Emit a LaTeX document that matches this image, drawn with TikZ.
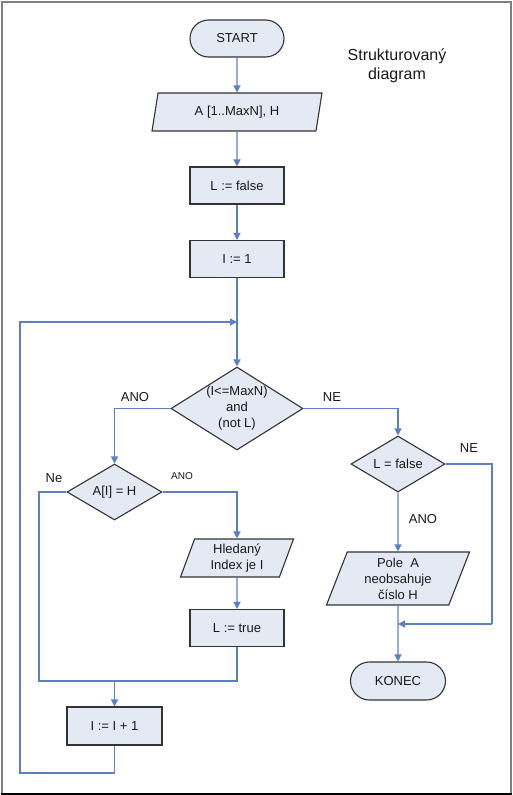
\documentclass[tikz,border=0pt]{standalone}
\usepackage{fontspec}
\setmainfont{Liberation Sans}
\usetikzlibrary{shapes.geometric,shapes.misc,arrows.meta}
\definecolor{fillc}{HTML}{E3EAF4}
\definecolor{linec}{HTML}{5B80C2}
\definecolor{bordc}{HTML}{333333}
\definecolor{framec}{HTML}{7F7F7F}
\tikzset{
  base/.style={draw=bordc, fill=fillc, line width=1.1pt, inner sep=0pt, align=center,
    font=\fontsize{13}{16}\selectfont, text=black!90},
  term/.style={base, rounded rectangle, minimum width=94pt, minimum height=37pt},
  proc/.style={base, rectangle, minimum width=94pt, minimum height=37pt},
  io/.style={base, trapezium, trapezium left angle=63.5, trapezium right angle=116.5,
    trapezium stretches body},
  dia/.style={base, diamond},
  txt/.style={inner sep=0pt, align=center, font=\fontsize{13}{16}\selectfont, text=black!90},
  lbl/.style={inner sep=0pt, font=\fontsize{13}{16}\selectfont, text=black!90},
  slbl/.style={inner sep=0pt, font=\fontsize{10}{12}\selectfont, text=black!90},
  conn/.style={draw=linec, line width=1.3pt},
  arr/.style={conn, -{Triangle[length=7pt,width=7pt]}},
}
\begin{document}
\begin{tikzpicture}[x=1pt,y=-1pt]
\useasboundingbox (0,0) rectangle (512,795);
\fill[white] (0,0) rectangle (512,795);
\draw[framec, line width=2pt] (1.5,1.5) rectangle (510.5,793.5);
\draw[black, line width=2pt] (0.5,793.5) -- (511.5,793.5);

\node[txt, font=\fontsize{16}{19}\selectfont] (title) at (397,66) {Strukturovaný\\diagram};

\node[term] (start) at (237,38.5) {START};
\node[io, minimum width=170pt, minimum height=38pt] (in1) at (237,112) {A [1..MaxN], H};
\node[proc] (lf) at (237,185.5) {L := false};
\node[proc] (i1) at (237,259) {I := 1};
\node[dia, minimum width=132pt, minimum height=83pt] (d1) at (237,408.5) {};
\node[txt] (d1t) at (237,408) {(I<=MaxN)\\and\\(not L)};
\node[dia, minimum width=95pt, minimum height=56pt] (d2) at (114.5,492) {};
\node[txt] (d2t) at (114.5,492) {A[I] = H};
\node[io, minimum width=113pt, minimum height=38pt] (hl) at (237,558) {Hledaný\\Index je I};
\node[proc] (lt) at (237,628) {L := true};
\node[proc, minimum width=95pt, minimum height=38pt] (inc) at (114.5,726) {I := I + 1};
\node[dia, minimum width=94pt, minimum height=56pt] (d3) at (398,464) {};
\node[txt] (d3t) at (398,464) {L = false};
\node[io, minimum width=143pt, minimum height=53pt] (pole) at (398,578.5) {Pole\ \ A\\neobsahuje\\číslo H};
\node[term, minimum width=95pt, minimum height=38pt] (konec) at (398,681) {KONEC};

\coordinate (join) at (237,322);
\coordinate (loopL) at (20,773);
\coordinate (m) at (114.5,681);
\coordinate (nl) at (39,681);
\coordinate (rj) at (492,624);
\coordinate (j2) at (398,624);

\draw[arr] (start) -- (in1);
\draw[arr] (in1) -- (lf);
\draw[arr] (lf) -- (i1);
\draw[arr] (i1) -- (d1);
\draw[arr] (inc.south) |- (loopL) |- (join);
\draw[arr] (d1.west) -| (d2.north);
\draw[arr] (d1.east) -| (d3.north);
\draw[arr] (d2.east) -| (hl.north);
\draw[arr] (hl) -- (lt);
\draw[conn] (lt.south) |- (m);
\draw[conn] (d2.west) -| (nl) -- (m);
\draw[arr] (m) -- (inc.north);
\draw[arr] (d3.south) -- (pole.north);
\draw[conn] (d3.east) -| (rj);
\draw[arr] (rj) -- (j2);
\draw[arr] (pole.south) -- (konec.north);

\node[lbl] (ano1) at (135,397) {ANO};
\node[lbl] (ne1) at (332,397) {NE};
\node[lbl] (ne2) at (54,478) {Ne};
\node[slbl] (ano2) at (182,476) {ANO};
\node[lbl] (ne3) at (469,448) {NE};
\node[lbl] (ano3) at (423,519) {ANO};
\end{tikzpicture}
\end{document}
